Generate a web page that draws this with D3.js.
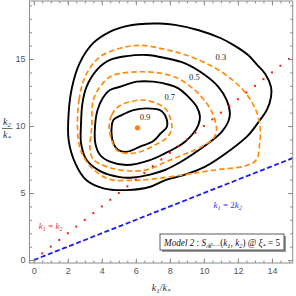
<!DOCTYPE html>
<html>
<head>
<meta charset="utf-8">
<script src="https://cdn.jsdelivr.net/npm/d3@7"></script>
<style>
  body { margin: 0; background: #fff; }
  svg { display: block; }
</style>
</head>
<body>
<div id="chart"></div>
<script>
// contour levels of the exact shape (black) and the template (orange dashed)
var levelLabels = ['0.3', '0.5', '0.7', '0.9'];
var labelSpots = [[11.0, 15.15], [9.44, 13.68], [7.99, 12.19], [6.54, 10.69]];

var black03 = [[6.15,17.6],[7.4,17.65],[8.3,17.55],[9.7,17.15],[11.0,16.55],[11.8,16.0],[12.6,15.3],[13.1,14.6],[13.6,13.9],[13.95,12.9],[13.95,12.2],[13.7,11.2],[13.3,10.45],[12.6,9.3],[11.6,8.25],[10.05,6.95],[8.7,6.3],[7.7,5.95],[6.8,5.45],[5.45,5.22],[4.1,5.35],[3.1,5.95],[2.45,7.2],[2.05,8.95],[2.05,10.95],[2.25,12.9],[2.7,14.7],[3.5,16.2],[4.5,17.05],[5.45,17.45]];
var black05 = [[3.7,14.18],[4.48,14.93],[5.46,15.22],[6.64,15.3],[7.71,15.08],[8.89,14.68],[10.06,13.81],[10.85,12.93],[11.34,11.94],[11.53,10.95],[11.43,10.32],[11.05,9.57],[10.26,8.71],[9.28,7.84],[8.5,7.22],[7.71,6.72],[6.83,6.38],[5.83,6.16],[5.07,6.19],[3.9,6.64],[3.11,7.46],[2.78,8.71],[2.78,10.2],[2.86,11.69],[3.1,12.93]];
var black07 = [[4.48,12.69],[5.07,12.93],[6.05,13.31],[7.03,13.31],[8.01,13.06],[8.5,12.81],[9.08,12.19],[9.58,11.44],[9.77,10.69],[9.67,10.07],[9.38,9.46],[8.89,8.83],[8.3,8.34],[7.71,7.96],[6.83,7.46],[5.46,7.09],[4.48,7.34],[3.9,7.84],[3.62,8.71],[3.6,9.95],[3.75,11.19],[4.05,12.07]];
var black09 = [[4.58,9.95],[4.68,10.45],[5.17,10.82],[5.85,11.19],[6.64,11.32],[7.42,11.19],[7.71,10.82],[7.83,9.95],[7.48,9.48],[7.03,8.88],[6.25,8.46],[5.46,8.08],[4.97,8.21],[4.68,8.71],[4.58,9.33]];

var orange1 = [[2.62,8.96],[2.66,11.94],[3.11,13.93],[3.9,15.17],[5.07,15.8],[6.3,16.02],[7.77,15.7],[8.95,15.3],[10.52,14.43],[11.69,13.43],[12.47,12.44],[13.06,11.19],[13.28,10.2],[13.32,9.46],[13.26,8.46],[13.1,7.5],[12.5,7.05],[10.65,6.72],[8.7,6.34],[6.83,6.02],[5.85,5.95],[4.48,6.02],[3.5,6.77],[2.91,7.76]];
var orange2 = [[3.41,9.95],[3.5,11.94],[3.9,12.93],[4.48,13.68],[5.07,13.92],[6.25,14.05],[7.42,13.95],[8.4,13.6],[9.1,13.05],[9.67,12.44],[10.3,11.44],[10.65,10.45],[10.74,9.7],[10.6,9.15],[9.87,8.46],[8.5,7.71],[7.71,7.3],[6.83,6.8],[5.85,6.64],[4.48,6.89],[3.5,7.51],[3.31,8.26]];
var orange3 = [[4.43,9.95],[4.58,10.82],[4.97,11.44],[5.66,11.81],[6.44,11.94],[7.23,11.69],[7.81,11.19],[8.1,10.2],[8.1,9.7],[7.8,9.1],[7.13,8.58],[6.25,8.08],[5.46,7.96],[4.88,8.21],[4.58,8.96]];

var exactContours = [black03, black05, black07, black09];
var templateContours = [orange1, orange2, orange3];

var peak = [6.1, 9.87];
var equalLineDots = [0.5,1,1.5,2,2.5,3,3.5,4,4.5,5,5.5,6,6.5,7,7.5,8,8.5,9,9.5,10,10.5,11,11.5,12,12.5,13,13.5,14,14.5,15];
var squeezedLine = [[0, 0], [16, 8]];

var xMajorTicks = [0, 2, 4, 6, 8, 10, 12, 14];
var yMajorTicks = [0, 5, 10, 15];

var width = 296, height = 296;
var plotL = 29.5, plotR = 292.7, plotT = 1, plotB = 263;

var svg = d3.select('#chart').append('svg')
    .attr('width', width)
    .attr('height', height);

var x = d3.scaleLinear().domain([-0.25, 15.22]).range([plotL, plotR]);
var y = d3.scaleLinear().domain([-0.22, 19.33]).range([plotB, plotT]);

svg.append('clipPath').attr('id', 'plotClip')
    .append('rect')
    .attr('x', plotL).attr('y', plotT)
    .attr('width', plotR - plotL).attr('height', plotB - plotT);

var plot = svg.append('g').attr('clip-path', 'url(#plotClip)');

var contourLine = d3.line()
    .x(function (d) { return x(d[0]); })
    .y(function (d) { return y(d[1]); })
    .curve(d3.curveCatmullRomClosed.alpha(0.5));

var straight = d3.line()
    .x(function (d) { return x(d[0]); })
    .y(function (d) { return y(d[1]); });

// k1 = 2 k2
plot.append('path')
    .attr('d', straight(squeezedLine))
    .attr('fill', 'none')
    .attr('stroke', '#1c1cf0')
    .attr('stroke-width', 1.8)
    .attr('stroke-dasharray', '5,2.6');

plot.selectAll('path.exact')
    .data(exactContours)
    .enter().append('path')
    .attr('class', 'exact')
    .attr('d', contourLine)
    .attr('fill', 'none')
    .attr('stroke', '#000')
    .attr('stroke-width', 1.9);

plot.selectAll('path.template')
    .data(templateContours)
    .enter().append('path')
    .attr('class', 'template')
    .attr('d', contourLine)
    .attr('fill', 'none')
    .attr('stroke', '#ff8c0a')
    .attr('stroke-width', 1.7)
    .attr('stroke-dasharray', '5.5,3');

// k1 = k2 dotted
plot.selectAll('rect.eq')
    .data(equalLineDots)
    .enter().append('rect')
    .attr('class', 'eq')
    .attr('x', function (d) { return x(d) - 1; })
    .attr('y', function (d) { return y(d) - 1; })
    .attr('width', 2)
    .attr('height', 2)
    .attr('fill', '#f01c1c');

plot.append('circle')
    .attr('cx', x(peak[0]))
    .attr('cy', y(peak[1]))
    .attr('r', 2.6)
    .attr('fill', '#ff8200');

plot.selectAll('text.level')
    .data(levelLabels)
    .enter().append('text')
    .attr('class', 'level')
    .attr('x', function (d, i) { return x(labelSpots[i][0]); })
    .attr('y', function (d, i) { return y(labelSpots[i][1]); })
    .attr('text-anchor', 'middle')
    .attr('dy', '0.35em')
    .attr('font-family', 'Liberation Serif, serif')
    .attr('font-size', 8.5)
    .attr('fill', '#222')
    .text(function (d) { return d; });

// annotations
function subText(g, parts, size) {
    parts.forEach(function (p) {
        var t = g.append('tspan').text(p[0]);
        if (p[1] === 'sub') {
            t.attr('font-size', size * 0.7).attr('baseline-shift', '-25%');
        } else if (p[1] === 'up') {
            t.attr('font-style', 'normal');
        }
    });
}

var redLabel = svg.append('text')
    .attr('x', x(1.0)).attr('y', y(2.35))
    .attr('text-anchor', 'middle')
    .attr('font-family', 'Liberation Serif, serif')
    .attr('font-style', 'italic')
    .attr('font-size', 9)
    .attr('fill', '#ee3030');
subText(redLabel, [['k'], ['1', 'sub'], [' = ', 'up'], ['k'], ['2', 'sub']], 9);

var blueLabel = svg.append('text')
    .attr('x', x(11.4)).attr('y', y(3.85))
    .attr('text-anchor', 'middle')
    .attr('font-family', 'Liberation Serif, serif')
    .attr('font-style', 'italic')
    .attr('font-size', 9)
    .attr('fill', '#3030ee');
subText(blueLabel, [['k'], ['1', 'sub'], [' = 2', 'up'], ['k'], ['2', 'sub']], 9);

// model box
var box = svg.append('g');
box.append('rect')
    .attr('x', 162).attr('y', 236)
    .attr('width', 124).attr('height', 16)
    .attr('fill', '#999');
box.append('rect')
    .attr('x', 160).attr('y', 234)
    .attr('width', 124).attr('height', 16)
    .attr('fill', '#fff')
    .attr('stroke', '#333')
    .attr('stroke-width', 0.8);
var boxText = box.append('text')
    .attr('x', 164).attr('y', 245.5)
    .attr('textLength', 116)
    .attr('lengthAdjust', 'spacingAndGlyphs')
    .attr('font-family', 'Liberation Serif, serif')
    .attr('font-style', 'italic')
    .attr('font-size', 10)
    .attr('fill', '#111');
subText(boxText, [['Model 2 '], [': ', 'up'], ['S'], ['\u211B\u2212\u2212', 'sub'], ['(', 'up'], ['k'], ['1', 'sub'], [', ', 'up'], ['k'], ['2', 'sub']
    , [') @ ', 'up'], ['\u03BE'], ['*', 'sub'], [' = 5', 'up']], 10);

// frame and ticks
var axisColor = '#8c8c8c';

function tickAxis(axis, transform, labels) {
    var g = svg.append('g').attr('transform', transform).call(axis);
    g.select('.domain').remove();
    g.selectAll('line').attr('stroke', axisColor);
    g.selectAll('text')
        .attr('fill', '#555')
        .attr('font-family', 'Liberation Sans, Arial, sans-serif')
        .attr('font-size', 9);
    if (!labels) g.selectAll('text').remove();
    return g;
}

var xMinor = d3.range(0, 15.01, 0.5);
var yMinor = d3.range(0, 19.01, 1);

tickAxis(d3.axisBottom(x).tickValues(xMinor).tickSize(-2.5), 'translate(0,' + plotB + ')', false);
tickAxis(d3.axisBottom(x).tickValues(xMajorTicks).tickSize(-4.5).tickPadding(5)
    .tickFormat(d3.format('d')), 'translate(0,' + plotB + ')', true);
tickAxis(d3.axisTop(x).tickValues(xMinor).tickSize(-2.5), 'translate(0,' + plotT + ')', false);
tickAxis(d3.axisTop(x).tickValues(xMajorTicks).tickSize(-4.5), 'translate(0,' + plotT + ')', false);

tickAxis(d3.axisLeft(y).tickValues(yMinor).tickSize(-2.5), 'translate(' + plotL + ',0)', false);
tickAxis(d3.axisLeft(y).tickValues(yMajorTicks).tickSize(-4.5).tickPadding(4)
    .tickFormat(d3.format('d')), 'translate(' + plotL + ',0)', true);
tickAxis(d3.axisRight(y).tickValues(yMinor).tickSize(-2.5), 'translate(' + plotR + ',0)', false);
tickAxis(d3.axisRight(y).tickValues(yMajorTicks).tickSize(-4.5), 'translate(' + plotR + ',0)', false);

svg.append('rect')
    .attr('x', plotL).attr('y', plotT)
    .attr('width', plotR - plotL).attr('height', plotB - plotT)
    .attr('fill', 'none')
    .attr('stroke', axisColor)
    .attr('stroke-width', 1);

// axis titles
var xTitle = svg.append('text')
    .attr('x', (plotL + plotR) / 2).attr('y', 291)
    .attr('text-anchor', 'middle')
    .attr('font-family', 'Liberation Serif, serif')
    .attr('font-style', 'italic')
    .attr('font-size', 10)
    .attr('fill', '#333');
subText(xTitle, [['k'], ['1', 'sub'], ['/', 'up'], ['k'], ['*', 'sub']], 10);

var yTop = svg.append('text')
    .attr('x', 7).attr('y', 125)
    .attr('text-anchor', 'middle')
    .attr('font-family', 'Liberation Serif, serif')
    .attr('font-style', 'italic')
    .attr('font-size', 10)
    .attr('fill', '#333');
subText(yTop, [['k'], ['2', 'sub']], 10);
svg.append('line')
    .attr('x1', 2).attr('x2', 12.5)
    .attr('y1', 128.5).attr('y2', 128.5)
    .attr('stroke', '#333').attr('stroke-width', 0.7);
var yBot = svg.append('text')
    .attr('x', 7).attr('y', 137.5)
    .attr('text-anchor', 'middle')
    .attr('font-family', 'Liberation Serif, serif')
    .attr('font-style', 'italic')
    .attr('font-size', 10)
    .attr('fill', '#333');
subText(yBot, [['k'], ['*', 'sub']], 10);
</script>
</body>
</html>
